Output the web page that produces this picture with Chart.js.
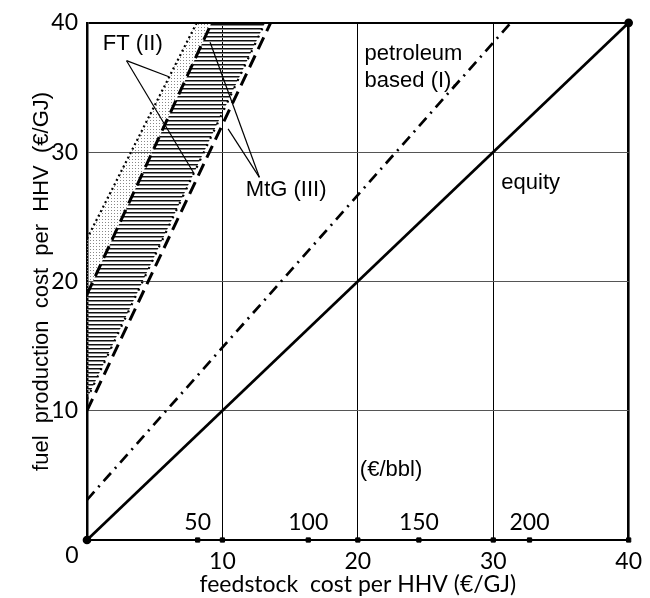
<!DOCTYPE html>
<html><head><meta charset="utf-8">
<script src="https://cdn.jsdelivr.net/npm/chart.js@4.4.1/dist/chart.umd.min.js"></script>
<style>html,body{margin:0;padding:0;background:#fff;}</style>
</head><body>
<canvas id="c" width="650" height="598"></canvas>
<script>
// ---- data ----
const axisTicks = [0, 10, 20, 30, 40];
const equity    = [[0, 0], [40, 40]];
const petroleum = [[0, 3.1], [31.3, 40]];
const ftUpper   = [[0, 23.3], [8.1, 40]];
const ftLower   = [[0, 10.9], [13.15, 40]];
const mtgUpper  = [[0, 19], [9.2, 40]];
const mtgLower  = [[0, 10], [13.56, 40]];
const bblTicks  = [50, 100, 150, 200];
const gjPerBbl  = 6.12;
const ftPointerA  = [[2.92, 37.07], [6.05, 35.83]];
const ftPointerB  = [[2.92, 37.07], [7.87, 28.4]];
const mtgPointerA = [[12.73, 28.05], [9.09, 38.5]];
const mtgPointerB = [[12.73, 28.05], [10.42, 31.8]];

const labels = [
  {text: 'FT (II)',    x: 1.17,  y: 38.4},
  {text: 'MtG (III)',  x: 11.73, y: 27.1},
  {text: 'petroleum',  x: 20.5,  y: 37.6},
  {text: 'based (I).', x: 20.5,  y: 35.5},
  {text: 'equity',     x: 30.6,  y: 27.6},
  {text: '(€/bbl)',    x: 20.15, y: 5.4}
];

const pts = a => a.map(([x, y]) => ({x, y}));

// ---- patterns ----
function makePattern(w, h, draw) {
  const c = document.createElement('canvas');
  c.width = w; c.height = h;
  const g = c.getContext('2d');
  draw(g);
  return g.createPattern(c, 'repeat');
}
const stipple = makePattern(3, 3, g => { g.fillStyle = '#888'; g.fillRect(0, 0, 1, 1); });
const hatch = makePattern(4, 4, g => {
  g.fillStyle = '#111'; g.fillRect(0, 0, 4, 1);
  g.fillStyle = '#888'; g.fillRect(0, 1, 4, 1);
});

const stippleShape = [...ftUpper, ...mtgUpper.slice().reverse()];
const hatchShape   = [...mtgUpper, ...ftLower.slice().reverse()];

const markerPts = [
  ...axisTicks.slice(1).map(v => ({x: v, y: 0})),
  ...bblTicks.map(b => ({x: b / gjPerBbl, y: 0}))
];

const lineDs = (data, opts) => Object.assign({
  data: pts(data), showLine: true, pointRadius: 0, borderColor: '#000',
  backgroundColor: '#000', borderWidth: 2.5, tension: 0, fill: false
}, opts);

const pointerOpts = {borderWidth: 1.2};

const labelPlugin = {
  id: 'labels',
  afterDatasetsDraw(chart) {
    const {ctx, scales: {x, y}} = chart;
    ctx.save();
    ctx.fillStyle = '#000';
    ctx.textBaseline = 'middle';
    ctx.textAlign = 'left';
    ctx.font = '22px "Liberation Sans", Arial, sans-serif';
    labels.forEach(l => ctx.fillText(l.text, x.getPixelForValue(l.x), y.getPixelForValue(l.y)));
    ctx.font = '23px Lato, sans-serif';
    ctx.textAlign = 'center';
    bblTicks.forEach(b => ctx.fillText(String(b), x.getPixelForValue(b / gjPerBbl), y.getPixelForValue(0) - 17));
    ctx.fillText('0', x.getPixelForValue(0) - 15, y.getPixelForValue(0) + 16);
    ctx.restore();
  }
};

new Chart(document.getElementById('c'), {
  type: 'scatter',
  data: {
    datasets: [
      lineDs(equity, {pointRadius: 3, pointHoverRadius: 3, borderWidth: 2.7, clip: false}),
      lineDs(petroleum, {borderDash: [11, 6, 2, 6], borderWidth: 2.7}),
      lineDs(mtgUpper, {borderDash: [13, 7], borderWidth: 3}),
      lineDs(mtgLower, {borderDash: [13, 7], borderWidth: 3}),
      lineDs(ftUpper, {borderDash: [2, 3], borderWidth: 2.2}),
      lineDs(ftLower, {borderDash: [2, 6], borderWidth: 2.2}),
      lineDs(ftPointerA, pointerOpts),
      lineDs(ftPointerB, pointerOpts),
      lineDs(mtgPointerA, pointerOpts),
      lineDs(mtgPointerB, pointerOpts),
      {data: markerPts, showLine: false, pointStyle: 'rect', pointRadius: 3, pointHoverRadius: 3,
       backgroundColor: '#000', borderColor: '#000', clip: false},
      lineDs(stippleShape, {borderWidth: 0, fill: 'shape', backgroundColor: stipple, order: 10}),
      lineDs(hatchShape, {borderWidth: 0, fill: 'shape', backgroundColor: hatch, order: 10})
    ]
  },
  options: {
    responsive: false,
    animation: false,
    events: [],
    layout: {padding: {left: 0, right: 14, top: 22, bottom: 0}},
    plugins: {legend: {display: false}, tooltip: {enabled: false}},
    scales: {
      x: {
        type: 'linear', min: 0, max: 40,
        afterFit: s => { s.height = 58; },
        afterBuildTicks: s => { s.ticks = axisTicks.map(v => ({value: v})); },
        ticks: {font: {family: 'Lato', size: 23}, color: '#000', padding: 8,
                callback: v => v === 0 ? '' : v, maxRotation: 0},
        grid: {drawTicks: false, color: '#000',
               lineWidth: c => c.tick && c.tick.value === 40 ? 2.6 : 1},
        border: {display: true, color: '#000', width: 2},
        title: {display: true, text: 'feedstock  cost per HHV (€/GJ)', color: '#000',
                font: {family: 'Lato', size: 23}, padding: {top: 0, bottom: 0}}
      },
      y: {
        type: 'linear', min: 0, max: 40,
        afterFit: s => { s.width = 87; },
        afterBuildTicks: s => { s.ticks = axisTicks.map(v => ({value: v})); },
        ticks: {font: {family: 'Lato', size: 23}, color: '#000', padding: 9,
                callback: v => v === 0 ? '' : v},
        grid: {drawTicks: false, color: c => c.tick && c.tick.value === 40 ? '#000' : '#555',
               lineWidth: c => c.tick && c.tick.value === 40 ? 2 : 1},
        border: {display: true, color: '#000', width: 2.5},
        title: {display: true, text: 'fuel  production  cost  per  HHV  (€/GJ)', color: '#000',
                font: {family: '"Liberation Sans", Arial', size: 22}, padding: {top: 29, bottom: 29}}
      }
    }
  },
  plugins: [labelPlugin]
});
</script>
</body></html>
